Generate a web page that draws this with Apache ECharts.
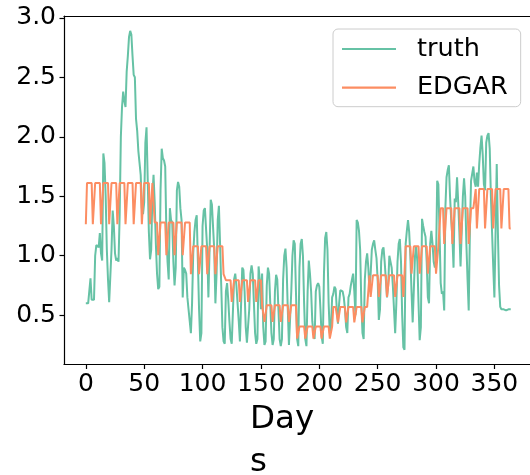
<!DOCTYPE html>
<html>
<head>
<meta charset="utf-8">
<script src="https://cdn.jsdelivr.net/npm/echarts@6/dist/echarts.min.js"></script>
<style>html,body{margin:0;padding:0;background:#fff;}#c{width:530px;height:475px;}</style>
</head>
<body>
<div id="c"></div>
<script>
// Daily truth values, day 0..364 (rows of 7 days)
const truth = [
0.60,0.61,0.60,0.59,0.81,0.63,0.62,
0.63,1.00,1.09,1.10,1.07,1.19,1.02,
0.96,1.86,1.78,1.50,1.05,0.80,0.61,
0.62,1.05,1.38,1.25,1.02,0.96,0.98,
0.95,1.35,2.00,2.25,2.38,2.30,2.25,
2.55,2.68,2.84,2.89,2.86,2.68,2.52,
2.50,2.15,2.05,1.88,1.78,1.68,1.40,
1.35,1.45,1.95,2.08,1.65,1.20,0.97,
1.05,1.50,1.68,1.45,1.10,0.85,0.72,
0.74,1.55,1.90,1.82,1.80,1.75,1.20,
0.95,0.80,1.40,1.30,1.28,0.95,0.75,
0.90,1.55,1.62,1.58,1.40,1.30,0.65,
0.90,0.88,0.85,0.65,0.55,0.45,0.35,
0.60,1.02,1.20,1.30,1.34,0.95,0.55,
0.28,0.35,1.25,1.38,1.40,1.40,1.05,
0.65,1.05,1.47,1.43,1.44,1.05,0.60,
0.85,1.30,1.42,1.10,0.75,0.40,0.28,
0.26,0.70,0.77,0.63,0.45,0.30,0.26,
0.27,0.80,0.85,0.75,0.60,0.45,0.28,
0.27,0.90,0.88,0.70,0.40,0.27,0.26,
0.55,0.85,0.92,0.85,0.60,0.35,0.26,
0.30,0.91,0.80,0.55,0.85,0.40,0.25,
0.28,0.75,0.90,0.85,0.60,0.35,0.25,
0.30,0.70,0.84,0.80,0.55,0.30,0.24,
0.30,0.80,1.00,1.06,0.90,0.55,0.25,
0.24,0.70,1.00,1.13,1.10,0.70,0.30,
0.24,0.90,1.10,1.14,1.00,0.60,0.30,
0.24,0.70,0.96,0.85,0.70,0.45,0.35,
0.30,0.70,0.75,0.77,0.74,0.55,0.32,
0.26,0.85,1.15,1.20,1.05,0.60,0.35,
0.40,0.65,0.68,0.74,0.72,0.55,0.43,
0.60,0.71,0.72,0.70,0.65,0.55,0.40,
0.35,0.65,0.68,0.75,0.80,0.85,0.70,
0.50,1.30,1.28,1.21,1.05,0.60,0.35,
0.30,0.80,0.95,1.02,0.90,0.70,0.85,
1.05,1.10,1.13,1.05,0.98,0.80,0.46,
0.55,0.95,1.05,1.07,0.95,0.80,0.65,
0.75,1.00,0.95,0.90,0.75,0.55,0.35,
0.60,0.95,1.10,1.14,0.95,0.50,0.23,
0.21,1.10,1.21,1.30,1.20,1.00,0.70,
0.44,0.45,1.00,1.08,0.95,0.60,0.29,
0.40,1.31,1.25,1.20,1.16,0.95,0.65,
0.60,1.10,1.21,1.10,0.95,0.90,0.95,
1.63,1.60,1.20,0.77,0.68,0.70,0.54,
1.40,1.66,1.72,1.76,1.50,1.30,1.16,
0.90,1.48,1.45,1.66,1.45,1.20,0.91,
1.20,1.50,1.65,1.50,1.10,0.80,0.54,
1.20,1.63,1.62,1.75,1.62,1.58,1.70,
1.58,1.77,1.91,2.01,1.85,1.60,1.55,
1.95,2.01,2.03,1.90,1.50,1.20,0.91,
0.65,1.20,1.77,1.20,0.75,0.57,0.55,
0.54,0.55,0.55,0.54,0.55,0.55,0.55,
0.55
];
// EDGAR monthly levels: weekday (high) and weekend (low), year 2017
const edgarYear = 2017;
const monthDays = [31,28,31,30,31,30,31,31,30,31,30,31];
const edgarWeekday = [1.612,1.612,1.279,1.080,0.794,0.584,0.405,0.570,0.836,1.080,1.400,1.560];
const edgarWeekend = [1.265,1.265,1.004,0.845,0.612,0.444,0.304,0.440,0.654,0.850,1.100,1.230];
const xTicks = [0,50,100,150,200,250,300,350];
const yTicks = [0.5,1.0,1.5,2.0,2.5,3.0];

const truthData = truth.map((v, i) => [i, v]);
const edgarData = [];
let day = 0;
monthDays.forEach((n, m) => {
  for (let k = 0; k < n; k++) {
    const wd = new Date(Date.UTC(edgarYear, 0, 1 + day)).getUTCDay();
    const weekend = (wd === 0 || wd === 6);
    edgarData.push([day, weekend ? edgarWeekend[m] : edgarWeekday[m]]);
    day++;
  }
});

const FONT = 'DejaVu Sans';
const xMin = -18.7, xMax = 380.5;
const chart = echarts.init(document.getElementById('c'), null, {renderer: 'canvas'});
chart.setOption({
  animation: false,
  backgroundColor: '#ffffff',
  grid: {left: 64, top: 16, width: 466, height: 348.5, containLabel: false},
  legend: {
    left: 333, top: 29, orient: 'vertical',
    padding: [5, 13, 4, 9],
    icon: 'rect',
    itemWidth: 54, itemHeight: 2.2, itemGap: 8.7,
    backgroundColor: 'rgba(255,255,255,0.8)',
    borderColor: '#cccccc', borderWidth: 1, borderRadius: 5,
    textStyle: {fontFamily: FONT, fontSize: 25.5, color: '#000', lineHeight: 30, padding: [0, 0, 0, 16]},
    data: ['truth', 'EDGAR']
  },
  xAxis: [{
    type: 'value', min: xMin, max: xMax,
    axisLine: {show: true, onZero: false, lineStyle: {color: '#000', width: 1.2}},
    axisTick: {show: true, length: 4.5, customValues: xTicks, lineStyle: {color: '#000', width: 1.2}},
    axisLabel: {customValues: xTicks, fontFamily: FONT, fontSize: 25, color: '#000', margin: 7},
    splitLine: {show: false}
  }, {
    type: 'value', position: 'top', min: xMin, max: xMax,
    axisLine: {show: true, onZero: false, lineStyle: {color: '#000', width: 1.2}},
    axisTick: {show: false}, axisLabel: {show: false}, splitLine: {show: false}
  }],
  yAxis: {
    type: 'value', min: 0.086, max: 3.015,
    axisLine: {show: true, onZero: false, lineStyle: {color: '#000', width: 1.2}},
    axisTick: {show: true, length: 4.5, customValues: yTicks, lineStyle: {color: '#000', width: 1.2}},
    axisLabel: {customValues: yTicks, formatter: v => v.toFixed(1), fontFamily: FONT, fontSize: 25, color: '#000', margin: 8},
    splitLine: {show: false}
  },
  graphic: [{
    type: 'text', left: 250, top: 397.7,
    style: {text: 'Day\ns', fontFamily: FONT, fontSize: 32.5, fill: '#000', lineHeight: 43, align: 'left'}
  }],
  series: [{
    name: 'truth', type: 'line', data: truthData, symbol: 'none',
    lineStyle: {color: '#66c2a5', width: 2}, itemStyle: {color: '#66c2a5'}, z: 2
  }, {
    name: 'EDGAR', type: 'line', data: edgarData, symbol: 'none',
    lineStyle: {color: '#fc8d62', width: 2}, itemStyle: {color: '#fc8d62'}, z: 3
  }]
});
</script>
</body>
</html>
